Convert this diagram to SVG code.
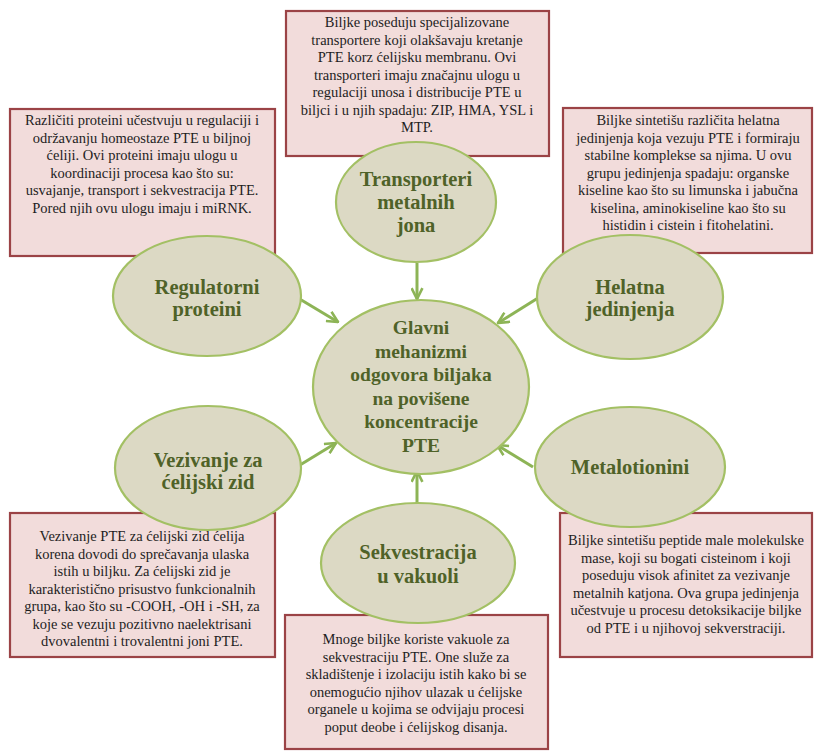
<svg xmlns="http://www.w3.org/2000/svg" width="817" height="754" viewBox="0 0 817 754">
<defs>
<style>
.box{fill:#f2dcdb;stroke:#9b4346;stroke-width:2.2}
.ell{fill:#dcd9c4;stroke:#a3c064;stroke-width:2.2}
.bt{font-family:"Liberation Serif","Times New Roman",serif;font-size:14.5px;fill:#1e1e1e;text-anchor:middle}
.et{font-family:"Liberation Serif","Times New Roman",serif;font-size:20.5px;font-weight:bold;fill:#4f6228;text-anchor:middle}
.ct{font-family:"Liberation Serif","Times New Roman",serif;font-size:19.5px;font-weight:bold;fill:#4f6228;text-anchor:middle}
.arr{stroke:#8db456;stroke-width:3;fill:none;marker-end:url(#ah)}
</style>
<marker id="ah" viewBox="0 0 12 12" refX="11" refY="6" markerWidth="13" markerHeight="13" markerUnits="userSpaceOnUse" orient="auto">
<path d="M1,1 L11,6 L1,11" fill="none" stroke="#8db456" stroke-width="2.4"/>
</marker>
</defs>
<rect width="817" height="754" fill="#ffffff"/>

<g id="box-transporteri">
<rect class="box" x="286" y="11" width="263" height="145"/>
<text class="bt"><tspan x="417" y="27">Biljke  poseduju specijalizovane</tspan><tspan x="417" y="44.5">transportere  koji olakšavaju kretanje</tspan><tspan x="417" y="62">PTE korz ćelijsku  membranu. Ovi</tspan><tspan x="417" y="79.5">transporteri  imaju značajnu ulogu u</tspan><tspan x="417" y="97">regulaciji  unosa i distribucije  PTE u</tspan><tspan x="417" y="114.5">biljci  i u njih spadaju: ZIP, HMA, YSL i</tspan><tspan x="417" y="132">MTP.</tspan></text>
</g>

<g id="box-regulatorni">
<rect class="box" x="10" y="109" width="265" height="147"/>
<text class="bt"><tspan x="142" y="125">Različiti  proteini  učestvuju u regulaciji  i</tspan><tspan x="142" y="142.5">održavanju  homeostaze PTE u biljnoj</tspan><tspan x="142" y="160">ćeliji.  Ovi proteini  imaju  ulogu u</tspan><tspan x="142" y="177.5">koordinaciji  procesa kao što su:</tspan><tspan x="142" y="195">usvajanje,  transport i sekvestracija PTE.</tspan><tspan x="142" y="212.5">Pored njih  ovu ulogu imaju i miRNK.</tspan></text>
</g>

<g id="box-helatna">
<rect class="box" x="563" y="108" width="249" height="145"/>
<text class="bt"><tspan x="688" y="125">Biljke  sintetišu različita  helatna</tspan><tspan x="688" y="142.5">jedinjenja  koja vezuju PTE i formiraju</tspan><tspan x="688" y="160">stabilne  komplekse sa njima.  U ovu</tspan><tspan x="688" y="177.5">grupu jedinjenja  spadaju: organske</tspan><tspan x="688" y="195">kiseline  kao što su limunska i jabučna</tspan><tspan x="688" y="212.5">kiselina,  aminokiseline  kao što su</tspan><tspan x="688" y="230">histidin  i cistein i fitohelatini.</tspan></text>
</g>

<g id="box-vezivanje">
<rect class="box" x="10" y="513" width="265" height="144"/>
<text class="bt"><tspan x="142" y="541">Vezivanje  PTE za ćelijski  zid ćelija</tspan><tspan x="142" y="558.5">korena dovodi do sprečavanja  ulaska</tspan><tspan x="142" y="576">istih  u biljku. Za ćelijski  zid je</tspan><tspan x="142" y="593.5">karakteristično  prisustvo funkcionalnih</tspan><tspan x="142" y="611">grupa, kao što su -COOH, -OH i -SH, za</tspan><tspan x="142" y="628.5">koje se vezuju pozitivno  naelektrisani</tspan><tspan x="142" y="646">dvovalentni  i trovalentni  joni PTE.</tspan></text>
</g>

<g id="box-metalotionini">
<rect class="box" x="560" y="513" width="252" height="144"/>
<text class="bt"><tspan x="686" y="545">Biljke  sintetišu peptide male molekulske</tspan><tspan x="686" y="562.5">mase, koji su bogati cisteinom  i koji</tspan><tspan x="686" y="580">poseduju visok afinitet  za vezivanje</tspan><tspan x="686" y="597.5">metalnih  katjona.  Ova grupa jedinjenja</tspan><tspan x="686" y="615">učestvuje  u procesu detoksikacije  biljke</tspan><tspan x="686" y="632.5">od PTE i u njihovoj sekverstraciji.</tspan></text>
</g>

<g id="box-sekvestracija">
<rect class="box" x="285" y="615" width="263" height="134"/>
<text class="bt"><tspan x="416" y="644">Mnoge biljke  koriste vakuole za</tspan><tspan x="416" y="661.5">sekvestraciju PTE.  One služe za</tspan><tspan x="416" y="679">skladištenje  i izolaciju  istih kako bi se</tspan><tspan x="416" y="696.5">onemogućio  njihov ulazak u ćelijske</tspan><tspan x="416" y="714">organele  u kojima se odvijaju  procesi</tspan><tspan x="416" y="731.5">poput deobe i  ćelijskog  disanja.</tspan></text>
</g>

<g id="connectors">
<line class="arr" x1="417" y1="263" x2="417" y2="299"/>
<line class="arr" x1="298" y1="298" x2="338" y2="322"/>
<line class="arr" x1="538" y1="298" x2="498" y2="323"/>
<line class="arr" x1="300" y1="465" x2="336" y2="443"/>
<line class="arr" x1="533" y1="467" x2="497" y2="445"/>
<line class="arr" x1="417" y1="503" x2="417" y2="471"/>
</g>

<g id="node-transporteri">
<ellipse class="ell" cx="416" cy="202" rx="80" ry="60"/>
<text class="et"><tspan x="416" y="186">Transporteri</tspan><tspan x="416" y="209">metalnih</tspan><tspan x="416" y="232">jona</tspan></text>
</g>

<g id="node-regulatorni">
<ellipse class="ell" cx="207" cy="296" rx="94" ry="60"/>
<text class="et"><tspan x="207" y="294">Regulatorni</tspan><tspan x="207" y="316">proteini</tspan></text>
</g>

<g id="node-helatna">
<ellipse class="ell" cx="630" cy="297" rx="93" ry="62"/>
<text class="et"><tspan x="630" y="294">Helatna</tspan><tspan x="630" y="316">jedinjenja</tspan></text>
</g>

<g id="node-vezivanje">
<ellipse class="ell" cx="208" cy="468" rx="93" ry="62"/>
<text class="et"><tspan x="208" y="467">Vezivanje za</tspan><tspan x="208" y="489">ćelijski zid</tspan></text>
</g>

<g id="node-metalotionini">
<ellipse class="ell" cx="630" cy="467" rx="95" ry="60"/>
<text class="et" x="630" y="474">Metalotionini</text>
</g>

<g id="node-sekvestracija">
<ellipse class="ell" cx="418" cy="563" rx="97" ry="60"/>
<text class="et"><tspan x="418" y="559">Sekvestracija</tspan><tspan x="418" y="583">u vakuoli</tspan></text>
</g>

<g id="node-glavni">
<ellipse class="ell" cx="421" cy="387" rx="108" ry="87"/>
<text class="ct"><tspan x="421" y="334">Glavni</tspan><tspan x="421" y="357.5">mehanizmi</tspan><tspan x="421" y="381">odgovora biljaka</tspan><tspan x="421" y="404.5">na povišene</tspan><tspan x="421" y="428">koncentracije</tspan><tspan x="421" y="451.5">PTE</tspan></text>
</g>
</svg>
